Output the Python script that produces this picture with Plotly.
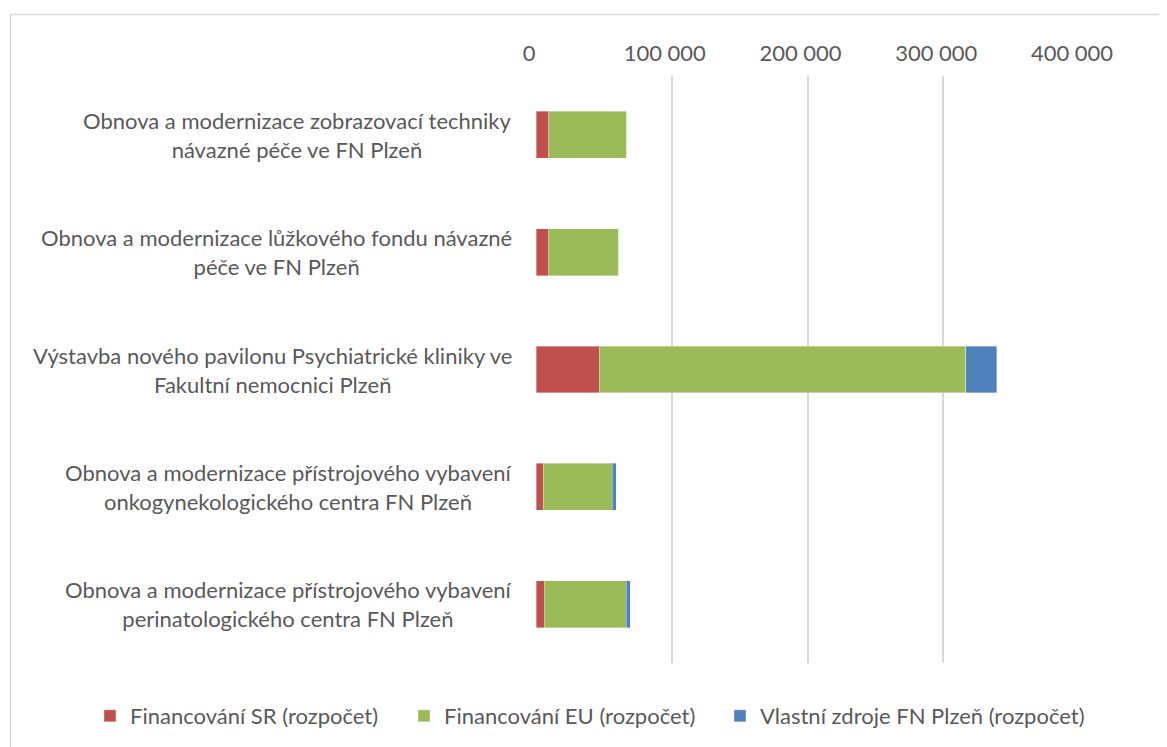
import plotly.graph_objects as go

categories = [
    "Obnova a modernizace zobrazovací techniky<br>návazné péče ve FN Plzeň",
    "Obnova a modernizace lůžkového fondu návazné<br>péče ve FN Plzeň",
    "Výstavba nového pavilonu Psychiatrické kliniky ve<br>Fakultní nemocnici Plzeň",
    "Obnova a modernizace přístrojového vybavení<br>onkogynekologického centra FN Plzeň",
    "Obnova a modernizace přístrojového vybavení<br>perinatologického centra FN Plzeň",
]
financovani_sr = [9500, 9000, 46500, 5200, 6000]
financovani_eu = [57500, 52000, 270000, 50800, 60500]
vlastni_zdroje = [0, 0, 23000, 3000, 3000]

series_names = [
    "Financování SR (rozpočet)",
    "Financování EU (rozpočet)",
    "Vlastní zdroje FN Plzeň (rozpočet)",
]
tick_vals = [0, 100000, 200000, 300000, 400000]
tick_text = ["0", "100 000", "200 000", "300 000", "400 000"]

colors = ["#C0504D", "#9BBB59", "#4F81BD"]
OFF = 8  # page body margin
W, H = 1167 - OFF, 747 - OFF
L, T = 536 - OFF, 76 - OFF
R, B = W - (1079 - OFF), H - (663 - OFF)
pw, ph = W - L - R, H - T - B
FONT = "Lato, Open Sans, sans-serif"
GREY = "#595959"

def px_x(xr):
    return (xr - OFF - L) / pw

def px_y(yr):
    return (H - B - (yr - OFF)) / ph

legend_names = ["legend", "legend2", "legend3"]
text_starts = [130, 444, 760]

fig = go.Figure()
for name, vals, c, lg in zip(series_names, [financovani_sr, financovani_eu, vlastni_zdroje], colors, legend_names):
    fig.add_trace(go.Bar(
        y=categories, x=vals, name=name, orientation="h", legend=lg,
        marker=dict(color=c, line=dict(color="rgba(255,255,255,0.6)", width=0.6)),
    ))

legend_common = dict(orientation="h", xanchor="left", yanchor="middle",
                     font=dict(size=22, color=GREY, family=FONT), itemwidth=30,
                     bgcolor="rgba(0,0,0,0)")
layout_legends = {}
for lg, ts in zip(legend_names, text_starts):
    layout_legends[lg] = dict(legend_common, x=px_x(ts - 40), y=px_y(716))

annotations = []
for cat in categories:
    annotations.append(dict(
        x=px_x(514), xref="paper", y=cat, yref="y", text=cat, showarrow=False,
        xanchor="right", yanchor="middle", align="center",
        font=dict(size=22, color=GREY, family=FONT)))

fig.update_layout(
    width=W, height=H,
    barmode="stack", bargap=0.6,
    margin=dict(l=L, r=R, t=T, b=B, autoexpand=False),
    plot_bgcolor="white", paper_bgcolor="white",
    font=dict(family=FONT, size=22, color=GREY),
    showlegend=True,
    xaxis=dict(side="top", range=[0, 400000], tickvals=tick_vals, ticktext=tick_text,
               showgrid=True, gridcolor="#D9D9D9", gridwidth=1.5, zeroline=False,
               showline=False, ticks="", tickfont=dict(size=22, color=GREY, family=FONT),
               ticklabelstandoff=10, ticklabelshift=-7, fixedrange=True),
    yaxis=dict(autorange="reversed", showgrid=False, showline=False, ticks="",
               showticklabels=False),
    annotations=annotations,
    shapes=[dict(type="rect", xref="paper", yref="paper",
                 x0=px_x(10.5), x1=px_x(1200),
                 y0=px_y(800), y1=px_y(14.5),
                 line=dict(color="#D9D9D9", width=1.5), layer="below")],
    **layout_legends,
)
fig.write_html("out.html")
